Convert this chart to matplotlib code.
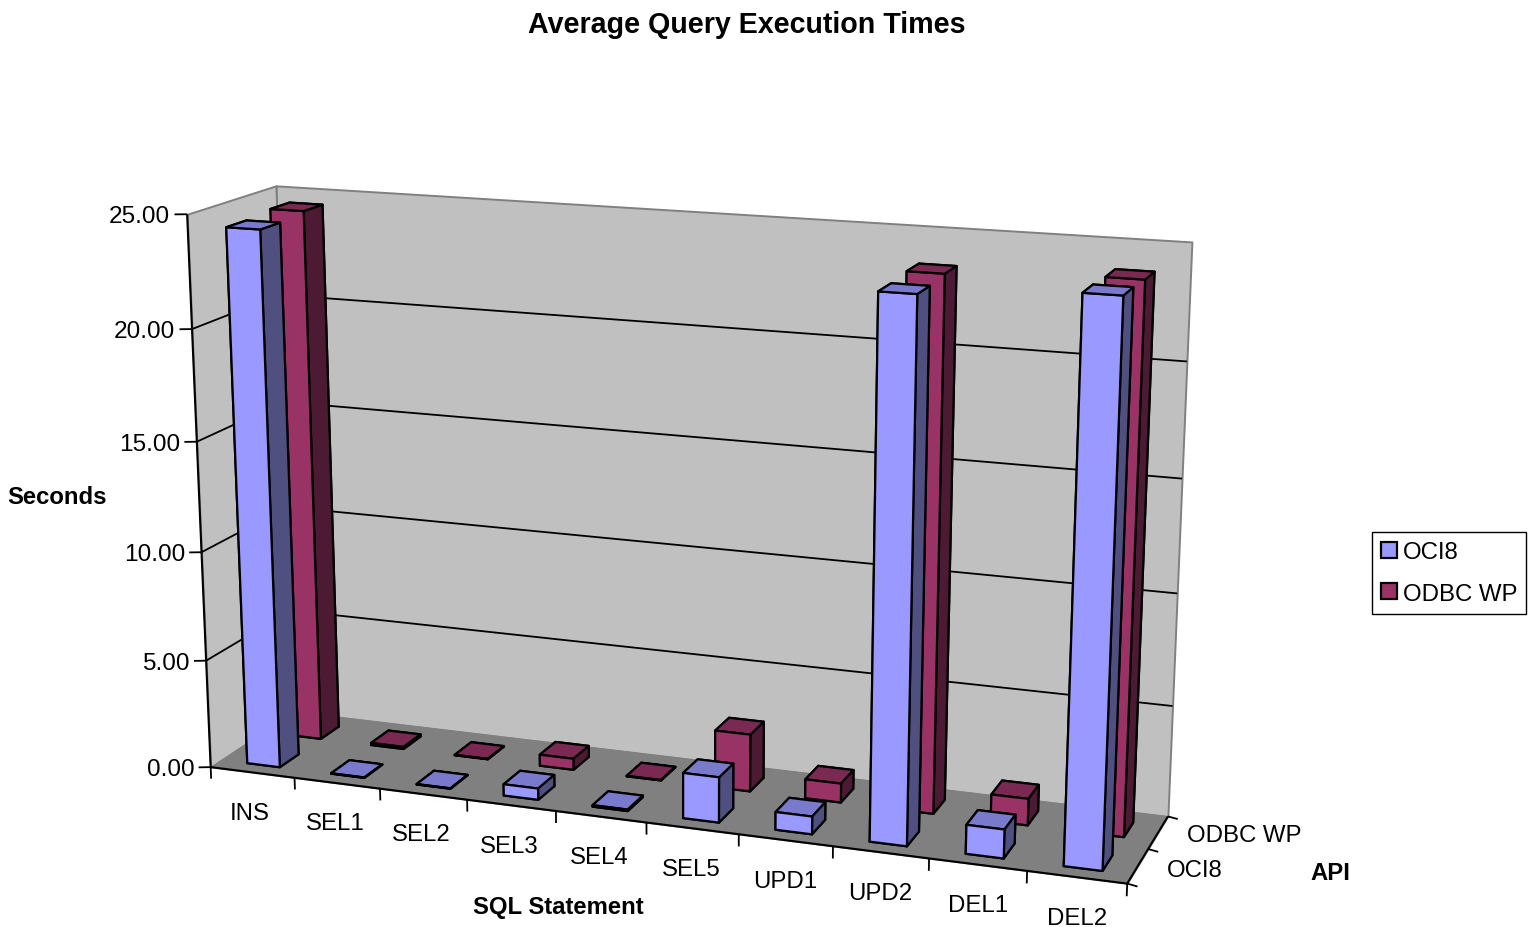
import numpy as np
import matplotlib
matplotlib.use("Agg")
import matplotlib.pyplot as plt
from matplotlib.patches import Patch
from mpl_toolkits.mplot3d import proj3d
from mpl_toolkits.mplot3d.art3d import Poly3DCollection

plt.rcParams['font.family'] = ['Liberation Sans', 'DejaVu Sans']

statements = ["INS", "SEL1", "SEL2", "SEL3", "SEL4", "SEL5", "UPD1", "UPD2", "DEL1", "DEL2"]
apis = ["OCI8", "ODBC WP"]
oci8 = [24.35, 0.02, 0.02, 0.52, 0.07, 2.05, 0.8, 23.5, 1.28, 24.0]
odbc = [24.5, 0.1, 0.02, 0.52, 0.02, 2.63, 0.87, 23.6, 1.2, 23.9]
zticks = [0, 5, 10, 15, 20, 25]

# three shades per series: front, top, side
blue = ['#9999FF', '#7A7ACC', '#4F4F80']
red = ['#993366', '#7A2952', '#4D1A33']
WALL = '#C0C0C0'
FLOOR = '#808080'

W, H = 1535, 928
NX, NY, ZMAX = len(statements), len(apis), zticks[-1]

fig = plt.figure(figsize=(W / 100, H / 100), dpi=100)
# square axes wider than the figure, Axes3D forces a square box
ax = fig.add_axes([0, (H - W) / 2 / H, 1, W / H], projection='3d', computed_zorder=False)
ax.set_axis_off()
ax.apply_aspect()

# camera: fit projection to the box corners as seen in the reference
corners = [
    ((0, 0, 0), (210, 768)),
    ((NX, 0, 0), (1127, 885)),
    ((NX, NY, 0), (1168, 817)),
    ((0, NY, 0), (295, 713)),
    ((0, 0, ZMAX), (188, 215)),
    ((0, NY, ZMAX), (275, 187)),
    ((NX, NY, ZMAX), (1192, 243)),
]
rows = []
for (x, y, z), (px, py) in corners:
    u, v = ax.transData.inverted().transform((px, H - py))
    rows.append([x, y, z, 1, 0, 0, 0, 0, -u * x, -u * y, -u * z, -u])
    rows.append([0, 0, 0, 0, x, y, z, 1, -v * x, -v * y, -v * z, -v])
P = np.linalg.svd(np.array(rows))[2][-1].reshape(3, 4)
P = P / P[2, 3]
M = np.array([P[0], P[1], [0, 0, 0, -1], P[2]])
ax.get_proj = lambda: M


def line(xs, ys, zs, color='black', lw=1.3, zorder=2):
    ax.plot(xs, ys, zs, color=color, lw=lw, zorder=zorder, solid_capstyle='butt')


def label(x, y, z, s, dx=0, dy=2, **kw):
    # dx, dy in pixels, dy going down
    u, v, _ = proj3d.proj_transform(x, y, z, M)
    ax.annotate(s, (u, v), xytext=(dx * 0.72, -dy * 0.72), textcoords='offset points', va='center', **kw)


# walls and floor
back = [(0, NY, 0), (NX, NY, 0), (NX, NY, ZMAX), (0, NY, ZMAX)]
left = [(0, 0, 0), (0, NY, 0), (0, NY, ZMAX), (0, 0, ZMAX)]
floor = [(0, 0, 0), (NX, 0, 0), (NX, NY, 0), (0, NY, 0)]
ax.add_collection3d(Poly3DCollection([back], facecolor=WALL, edgecolor=FLOOR, lw=1.4, zorder=1))
ax.add_collection3d(Poly3DCollection([left], facecolor=WALL, edgecolor=FLOOR, lw=1.4, zorder=1))
ax.add_collection3d(Poly3DCollection([floor], facecolor=FLOOR, edgecolor=FLOOR, lw=1.0, zorder=1.5))

# gridlines
for z in zticks[1:-1]:
    line([0, 0, NX], [0, NY, NY], [z, z, z], zorder=1.2)

# axis lines and ticks
line([0, 0], [0, 0], [0, ZMAX], lw=1.5)
line([0, NX, NX], [0, 0, NY], [0, 0, 0], lw=1.5, zorder=3)
for z in zticks:
    line([0, -0.118], [0, -0.051], [z, z])
    label(-0.15, -0.065, z, f"{z:.2f}", dx=-1, ha='right', fontsize=17.6)
for i in range(NX + 1):
    line([i, i], [0, 0], [0, -0.55], zorder=3)
for j in range(NY + 1):
    line([NX, NX + 0.111], [j, j - 0.042], [0, 0], zorder=3)

for i, s in enumerate(statements):
    label(i + 0.47 + 0.004 * i, 0, 0, s, dy=40.5, ha='center', fontsize=17.3)
for j, s in enumerate(apis):
    label(NX + 0.28, j * 1.05 + 0.55, 0, s, ha='left', fontsize=17.3)

# bars, back row first then left to right
for j, (vals, shades) in reversed(list(enumerate(zip([oci8, odbc], [blue, red])))):
    front, top, side = shades
    for i, v in enumerate(vals):
        ax.bar3d([i + 0.31], [j + 0.25], [0], 0.39, 0.45, v,
                 color=[top, top, front, side, side, side], edgecolor='black',
                 lw=1.6, shade=False, zorder=4 + (1 - j) * 20 + i)

fig.text(747 / W, 1 - 25 / H, "Average Query Execution Times", ha='center', va='center',
         fontsize=20.6, fontweight='bold')
fig.text(57 / W, 1 - 498 / H, "Seconds", ha='center', va='center', fontsize=17.2, fontweight='bold')
fig.text(558 / W, 1 - 908 / H, "SQL Statement", ha='center', va='center', fontsize=17.2, fontweight='bold')
fig.text(1330 / W, 1 - 874 / H, "API", ha='center', va='center', fontsize=17.2, fontweight='bold')

handles = [Patch(facecolor=blue[0], edgecolor='black', lw=1.6, label=apis[0]),
           Patch(facecolor=red[0], edgecolor='black', lw=1.6, label=apis[1])]
fig.legend(handles=handles, loc='center', bbox_to_anchor=(1449 / W, 1 - 574 / H), fontsize=17.3,
           fancybox=False, framealpha=1, edgecolor='black', handlelength=0.65, handleheight=0.65,
           handletextpad=0.25, labelspacing=0.8, borderpad=0.38, borderaxespad=0)

fig.savefig("out.png", dpi=100)
